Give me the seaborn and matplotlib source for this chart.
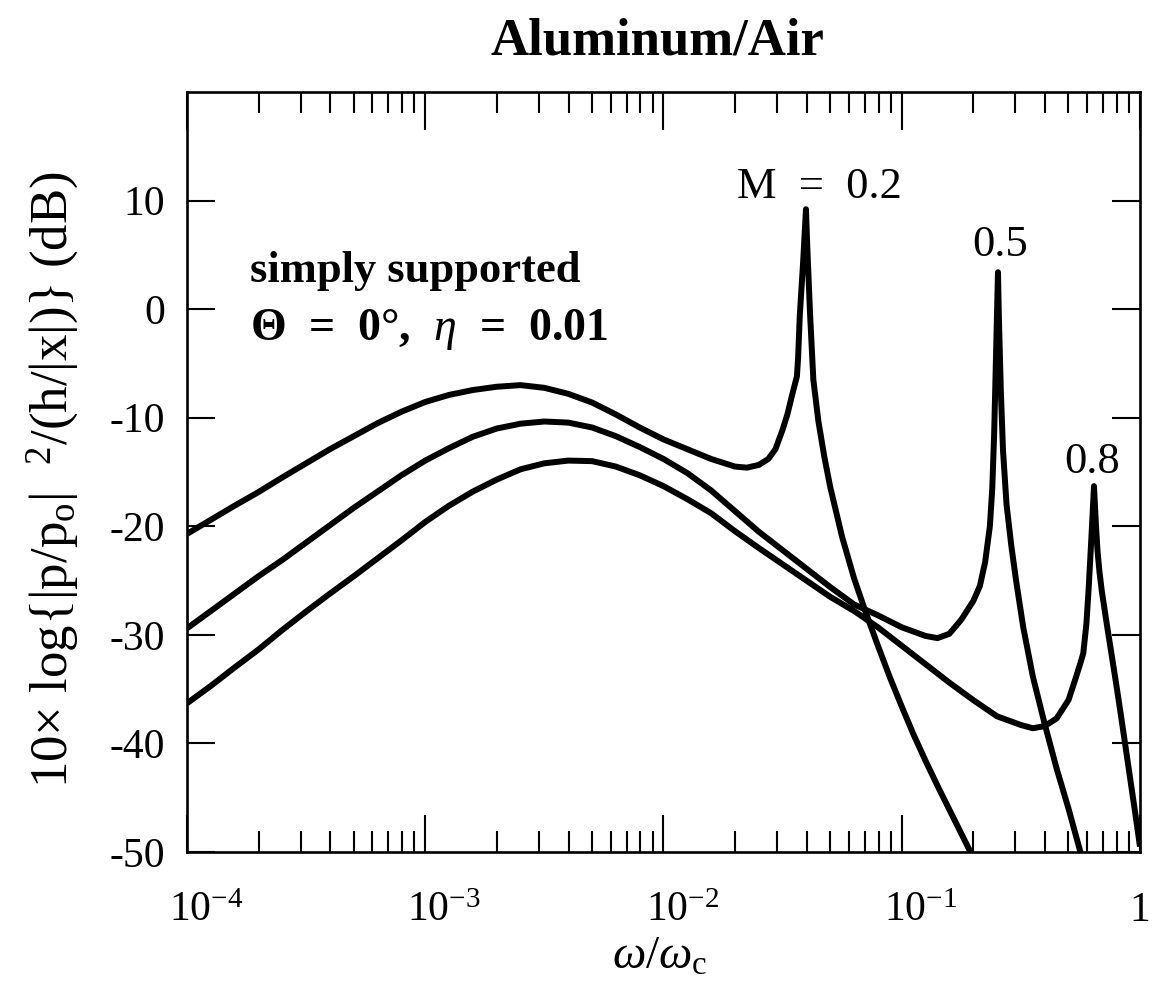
import numpy as np
import pandas as pd
import matplotlib
matplotlib.use("Agg")
import matplotlib.pyplot as plt
import matplotlib.transforms as mtransforms
import seaborn as sns
from matplotlib.ticker import LogLocator, NullFormatter

# ---------------- data ----------------
mach_numbers = ["0.2", "0.5", "0.8"]

freq_m02 = [1.000e-4, 1.259e-4, 1.585e-4, 1.995e-4, 2.512e-4, 3.162e-4, 3.981e-4, 5.012e-4, 6.310e-4, 7.943e-4,
            1.000e-3, 1.259e-3, 1.585e-3, 1.995e-3, 2.512e-3, 3.162e-3, 3.981e-3, 5.012e-3, 6.310e-3, 7.943e-3,
            1.000e-2, 1.259e-2, 1.585e-2, 1.995e-2, 2.239e-2, 2.512e-2, 2.754e-2, 2.951e-2, 3.162e-2, 3.311e-2,
            3.467e-2, 3.631e-2, 3.673e-2, 3.733e-2, 3.855e-2, 3.963e-2, 4.013e-2, 4.121e-2, 4.256e-2, 4.467e-2,
            4.732e-2, 5.012e-2, 5.623e-2, 6.310e-2, 7.079e-2, 7.943e-2, 8.913e-2, 0.1000, 0.1122, 0.1259,
            0.1413, 0.1585, 0.1778, 0.1995]
level_m02 = [-20.7, -19.4, -18.1, -16.85, -15.5, -14.2, -12.9, -11.7, -10.5, -9.45,
             -8.55, -7.9, -7.45, -7.15, -7.0, -7.25, -7.8, -8.6, -9.7, -10.9,
             -12.0, -12.9, -13.8, -14.5, -14.6, -14.35, -13.8, -12.9, -11.1, -9.7,
             -7.9, -6.2, -4.5, -0.6, 4.3, 9.2, 5.8, -0.35, -6.5, -10.3,
             -13.6, -16.4, -21.0, -24.8, -28.0, -31.0, -33.9, -36.6, -39.2, -41.6,
             -43.9, -46.1, -48.3, -50.5]

freq_m05 = [1.000e-4, 1.259e-4, 1.585e-4, 1.995e-4, 2.512e-4, 3.162e-4, 3.981e-4, 5.012e-4, 6.310e-4, 7.943e-4,
            1.000e-3, 1.259e-3, 1.585e-3, 1.995e-3, 2.512e-3, 3.162e-3, 3.981e-3, 5.012e-3, 6.310e-3, 7.943e-3,
            1.000e-2, 1.259e-2, 1.585e-2, 1.995e-2, 2.512e-2, 3.162e-2, 3.981e-2, 5.012e-2, 6.310e-2, 7.943e-2,
            0.1000, 0.1259, 0.1413, 0.1585, 0.1778, 0.1995, 0.2128, 0.2239, 0.2344, 0.2399,
            0.2443, 0.2483, 0.2535, 0.2559, 0.2606, 0.2661, 0.2754, 0.2884, 0.3020, 0.3236,
            0.3548, 0.3981, 0.4467, 0.5012, 0.5623, 0.6310]
level_m05 = [-29.4, -27.8, -26.2, -24.6, -23.1, -21.5, -19.9, -18.3, -16.8, -15.3,
             -13.95, -12.8, -11.75, -11.0, -10.55, -10.35, -10.45, -10.9, -11.7, -12.7,
             -13.8, -15.1, -16.7, -18.6, -20.5, -22.2, -23.9, -25.6, -27.2, -28.2,
             -29.3, -30.1, -30.3, -29.9, -28.6, -26.9, -25.5, -23.3, -20.0, -16.5,
             -11.5, -5.0, 3.4, -1.0, -7.5, -13.0, -18.0, -21.8, -25.0, -29.3,
             -33.8, -38.2, -42.3, -46.0, -50.0, -53.5]

freq_m08 = [1.000e-4, 1.259e-4, 1.585e-4, 1.995e-4, 2.512e-4, 3.162e-4, 3.981e-4, 5.012e-4, 6.310e-4, 7.943e-4,
            1.000e-3, 1.259e-3, 1.585e-3, 1.995e-3, 2.512e-3, 3.162e-3, 3.981e-3, 5.012e-3, 6.310e-3, 7.943e-3,
            1.000e-2, 1.259e-2, 1.585e-2, 1.995e-2, 2.512e-2, 3.162e-2, 3.981e-2, 5.012e-2, 6.310e-2, 7.943e-2,
            0.1000, 0.1259, 0.1585, 0.1995, 0.2512, 0.3162, 0.3548, 0.3981, 0.4467, 0.5012,
            0.5370, 0.5623, 0.5781, 0.5957, 0.6095, 0.6237, 0.6339, 0.6412, 0.6531, 0.6637,
            0.6761, 0.6918, 0.7244, 0.7586, 0.7943, 0.8318, 0.8710, 0.9120, 0.9550, 1.0]
level_m08 = [-36.3, -34.7, -33.0, -31.35, -29.55, -27.85, -26.2, -24.6, -22.95, -21.3,
             -19.6, -18.1, -16.8, -15.7, -14.75, -14.2, -13.95, -14.0, -14.5, -15.3,
             -16.3, -17.5, -18.8, -20.45, -22.0, -23.5, -25.0, -26.5, -27.8, -29.3,
             -31.0, -32.7, -34.4, -36.0, -37.5, -38.3, -38.6, -38.4, -37.7, -36.0,
             -34.0, -32.6, -31.7, -29.0, -25.6, -21.5, -18.5, -16.3, -19.8, -22.3,
             -24.2, -26.0, -28.9, -31.7, -34.5, -37.4, -40.4, -43.4, -46.4, -49.5]

x_tick_values = [1e-4, 1e-3, 1e-2, 1e-1, 1.0]
x_tick_labels = [r"$\mathregular{10^{-4}}$", r"$\mathregular{10^{-3}}$",
                 r"$\mathregular{10^{-2}}$", r"$\mathregular{10^{-1}}$", "1"]
y_tick_values = [-50, -40, -30, -20, -10, 0, 10]

# ---------------- style ----------------
sns.set_theme(style="ticks")
plt.rcParams.update({
    "font.family": ["Liberation Serif", "DejaVu Serif"],
    "mathtext.fontset": "custom",
    "mathtext.rm": "Liberation Serif",
    "mathtext.it": "Liberation Serif:italic",
    "mathtext.bf": "Liberation Serif:bold",
    "axes.unicode_minus": False,
    "text.color": "black",
    "axes.labelcolor": "black",
    "xtick.color": "black",
    "ytick.color": "black",
    "axes.edgecolor": "black",
})

frames = []
for m, f, l in zip(mach_numbers, [freq_m02, freq_m05, freq_m08],
                   [level_m02, level_m05, level_m08]):
    frames.append(pd.DataFrame({"omega": f, "level": l, "M": m}))
df = pd.concat(frames, ignore_index=True)

fig = plt.figure(figsize=(11.53, 9.92), dpi=100)
ax = fig.add_axes([0.1622, 0.1411, 0.8265, 0.7662])

sns.lineplot(data=df, x="omega", y="level", hue="M", palette=["black"] * 3,
             estimator=None, sort=False, linewidth=4.3, legend=False, ax=ax)
for ln in ax.get_lines():
    ln.set_solid_joinstyle("round")
    ln.set_solid_capstyle("butt")

ax.set_xscale("log")
ax.set_xlim(1e-4, 1.0)
ax.set_ylim(-50, 20)
ax.set_xlabel("")
ax.set_ylabel("")

ax.set_xticks(x_tick_values)
ax.set_xticklabels(x_tick_labels)
ax.xaxis.set_minor_locator(LogLocator(base=10, subs=np.arange(2, 10)))
ax.xaxis.set_minor_formatter(NullFormatter())
ax.set_yticks(y_tick_values)
ax.set_yticklabels([str(v) for v in y_tick_values])

ax.tick_params(which="both", direction="in", top=True, right=True)
ax.tick_params(axis="x", which="major", length=27, width=1.5, pad=50, labelsize=30)
ax.tick_params(axis="x", which="minor", length=15, width=1.5)
ax.tick_params(axis="y", which="major", length=20, width=1.5, pad=16, labelsize=30)
ax.tick_params(axis="y", which="minor", left=False, right=False)

shift = mtransforms.ScaledTranslation(0.19, 0, fig.dpi_scale_trans)
for lab, txt in zip(ax.get_xticklabels(), x_tick_labels):
    lab.set_verticalalignment("baseline")
    if txt != "1":
        lab.set_transform(lab.get_transform() + shift)

for sp in ax.spines.values():
    sp.set_linewidth(1.9)
    sp.set_color("black")

# ---------------- text ----------------
fig.text(0.57, 0.958, "Aluminum/Air", ha="center", va="center",
         fontsize=38, fontweight="bold")
fig.text(0.572, 0.035, r"$\omega/\omega_\mathregular{c}$", ha="center", va="center",
         fontsize=34)
fig.text(0.046, 0.516,
         r"10× log{|p/p$_\mathregular{o}$|  $^\mathregular{2}$/(h/|x|)} (dB)",
         rotation=90, ha="center", va="center", fontsize=38)

ax.text(0.066, 0.75, "simply supported", transform=ax.transAxes,
        fontsize=32, fontweight="bold", va="baseline", ha="left")
ax.text(0.066, 0.674, r"Θ  =  0°,  $\eta$  =  0.01", transform=ax.transAxes,
        fontsize=33, fontweight="bold", va="baseline", ha="left")

ax.text(0.664, 0.875, "M  =  0.2", transform=ax.transAxes, ha="center", va="center",
        fontsize=32)
ax.text(0.853, 0.799, "0.5", transform=ax.transAxes, ha="center", va="center",
        fontsize=32)
ax.text(0.950, 0.513, "0.8", transform=ax.transAxes, ha="center", va="center",
        fontsize=32)

fig.savefig("out.png", dpi=100)
